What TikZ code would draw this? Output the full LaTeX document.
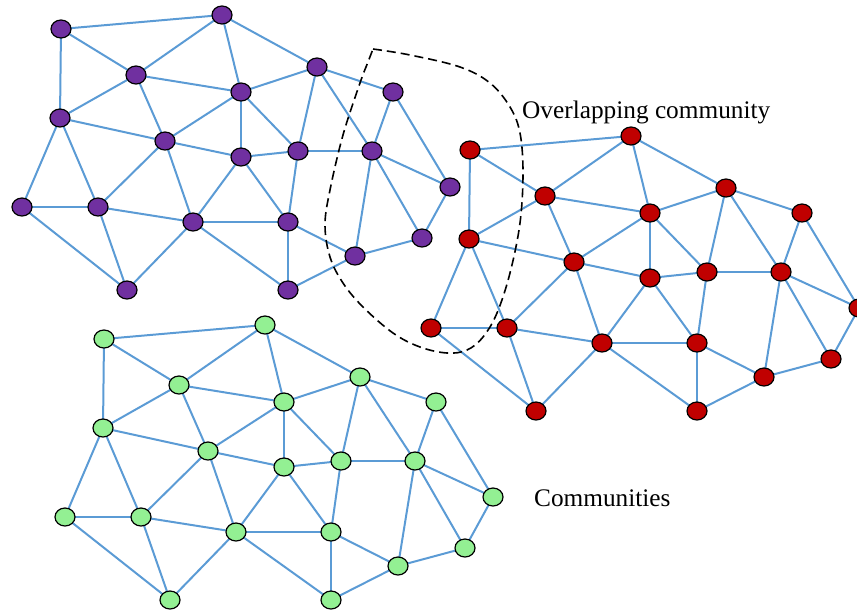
\documentclass[tikz,border=0pt]{standalone}
\usepackage{fontspec}
\setmainfont{Liberation Serif}
\usetikzlibrary{backgrounds,shapes.geometric}
\definecolor{edgeblue}{HTML}{5B9BD5}
\definecolor{cpurple}{HTML}{7030A0}
\definecolor{cred}{HTML}{C00000}
\definecolor{cgreen}{HTML}{93F093}
\tikzset{
  vert/.style={ellipse, draw=black, line width=1.2pt, minimum width=20pt, minimum height=18pt, inner sep=0pt},
  edge/.style={draw=edgeblue, line width=2pt},
  label/.style={font=\fontsize{25.3}{30}\selectfont, inner sep=0pt, anchor=base west},
  region/.style={draw=black, line width=1.6pt, dash pattern=on 9pt off 5pt}
}
\newcommand{\community}[3]{%
  \begin{scope}[shift={#3}]
    \node[vert, fill=#2] (#1-1) at (61,29) {};
    \node[vert, fill=#2] (#1-2) at (222,15) {};
    \node[vert, fill=#2] (#1-3) at (136,75) {};
    \node[vert, fill=#2] (#1-4) at (241,92) {};
    \node[vert, fill=#2] (#1-5) at (317,67) {};
    \node[vert, fill=#2] (#1-6) at (393,92) {};
    \node[vert, fill=#2] (#1-7) at (60,118) {};
    \node[vert, fill=#2] (#1-8) at (165,141) {};
    \node[vert, fill=#2] (#1-9) at (241,157) {};
    \node[vert, fill=#2] (#1-10) at (298,151) {};
    \node[vert, fill=#2] (#1-11) at (372,151) {};
    \node[vert, fill=#2] (#1-12) at (450,187) {};
    \node[vert, fill=#2] (#1-13) at (22,207) {};
    \node[vert, fill=#2] (#1-14) at (98,207) {};
    \node[vert, fill=#2] (#1-15) at (193,222) {};
    \node[vert, fill=#2] (#1-16) at (288,222) {};
    \node[vert, fill=#2] (#1-17) at (422,238) {};
    \node[vert, fill=#2] (#1-18) at (355,256) {};
    \node[vert, fill=#2] (#1-19) at (127,290) {};
    \node[vert, fill=#2] (#1-20) at (288,290) {};
  \end{scope}
  \begin{pgfonlayer}{background}
    \foreach \a/\b in {1/2,1/3,1/7,2/3,2/4,2/5,3/4,3/7,3/8,4/5,4/8,4/9,4/10,5/10,5/6,5/11,6/11,6/12,7/8,7/13,7/14,8/9,8/14,8/15,9/10,9/15,9/16,10/11,10/16,11/12,11/17,11/18,12/17,13/14,13/19,14/15,14/19,15/16,15/19,15/20,16/20,16/18,18/17,18/20}
      \draw[edge] (#1-\a.center) -- (#1-\b.center);
  \end{pgfonlayer}%
}
\begin{document}
\begin{tikzpicture}[x=1pt, y=-1pt]
  \useasboundingbox (0,0) rectangle (857,611);
  \community{p}{cpurple}{(0,0)}
  \community{r}{cred}{(409,121)}
  \community{g}{cgreen}{(43,310)}
  \draw[region] plot[smooth, tension=0.6] coordinates {
    (373,49) (410,55) (460,67) (490,83) (510,107) (520,133) (523,173)
    (520,223) (510,273) (497,313) (483,337) (467,350) (447,353) (420,347)
    (393,333) (363,307) (343,283) (330,257) (325,225) (330,190) (343,135)
    (360,83) (368,62) (373,49)};
  \node[label] (olap) at (522,118) {Overlapping community};
  \node[label] (comm) at (534,506) {Communities};
\end{tikzpicture}
\end{document}
